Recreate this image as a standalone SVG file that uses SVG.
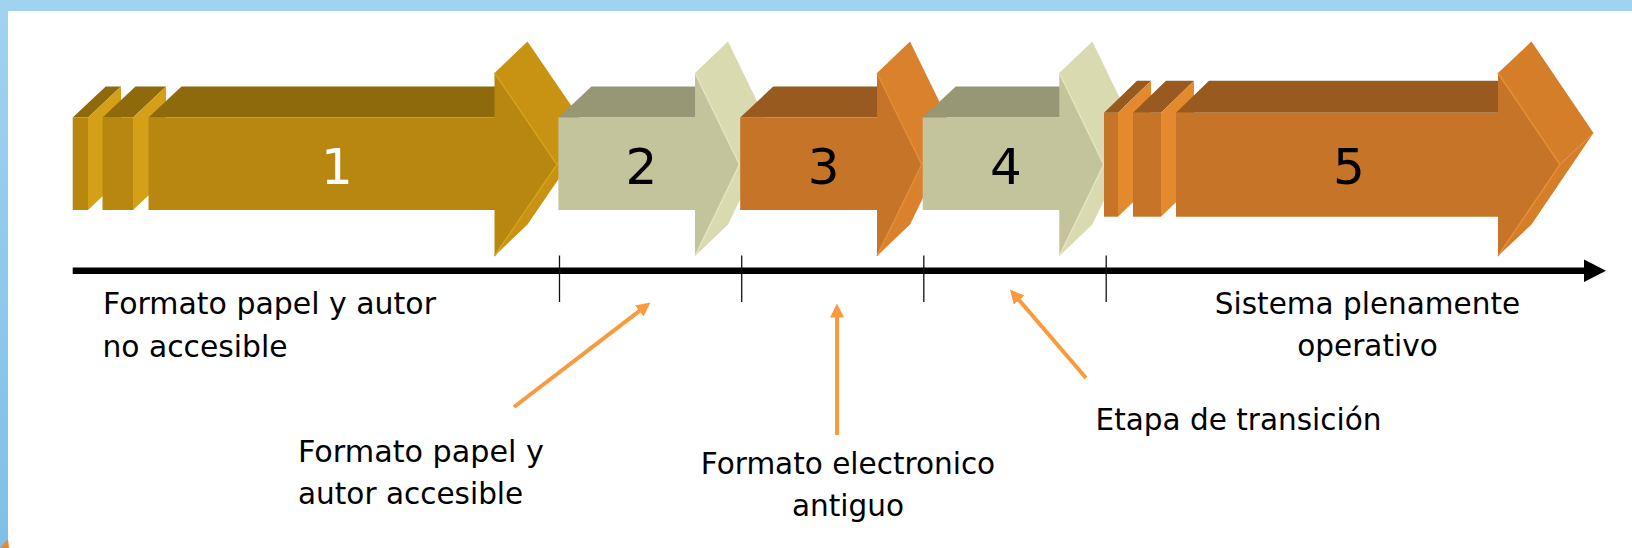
<svg xmlns="http://www.w3.org/2000/svg" width="1632" height="548" viewBox="0 0 1632 548">
<defs>
<linearGradient id="leftBand" x1="0" y1="0" x2="0" y2="1">
<stop offset="0" stop-color="#A1D3F1"/>
<stop offset="1" stop-color="#7FBFE7"/>
</linearGradient>
<marker id="callHead" markerUnits="userSpaceOnUse" markerWidth="16" markerHeight="16" viewBox="0 0 16 16" refX="6" refY="7" orient="auto">
<path d="M0,0 L14,7 L0,14 Z" fill="#FB9A3C"/>
</marker>
</defs>
<style>
.lbl{font-family:"DejaVu Sans","Liberation Sans",sans-serif;font-size:29.5px;fill:#000}
.num{font-family:"DejaVu Sans","Liberation Sans",sans-serif;font-size:50px;text-anchor:middle}
.g-top{fill:#8F6A0D}.g-front{fill:#B7870F}.g-head{fill:#C89313}.g-slab{fill:#D4A017}.g-hl{fill:none;stroke:#D6A21E;stroke-width:1.5}
.k-top{fill:#979776}.k-front{fill:#C3C39C}.k-head{fill:#DADAB0}.k-hl{fill:none;stroke:#E4E4C0;stroke-width:1.5}
.o-top{fill:#985A1E}.o-front{fill:#C57428}.o-head{fill:#DA812E}.o-slab{fill:#E48A2E}.o-hl{fill:none;stroke:#E58E38;stroke-width:1.5}
.call{fill:none;stroke:#FB9A3C;stroke-width:4;marker-end:url(#callHead)}
</style>
<rect x="0" y="0" width="1632" height="548" fill="#FFFFFF"/>
<rect x="0" y="0" width="1632" height="11" fill="#A1D3F1"/>
<rect x="0" y="0" width="8" height="548" fill="url(#leftBand)"/>
<polygon points="0,548 8,539 9,548" fill="#E8892E"/>

<g id="arrow1">
<polygon class="g-top" points="72.7,117.5 105.7,86.5 121,86.5 88,117.5"/>
<polygon class="g-slab" points="88,117.5 121,86.5 121,179 88,210"/>
<rect class="g-front" x="72.7" y="117.5" width="15.3" height="92.5"/>
<polygon class="g-top" points="102.5,117.5 135.5,86.5 166,86.5 133,117.5"/>
<polygon class="g-slab" points="133,117.5 166,86.5 166,179 133,210"/>
<rect class="g-front" x="102.5" y="117.5" width="30.5" height="92.5"/>
<polygon class="g-top" points="148.5,117.5 181.5,86.5 527.5,86.5 494.5,117.5"/>
<polygon class="g-head" points="557,164.5 590,133 527.5,224.5 494.5,256"/>
<polygon class="g-head" points="494.5,73 527.5,41.5 590,133 557,164.5"/>
<polygon class="g-front" points="148.5,117.5 494.5,117.5 494.5,73 557,164.5 494.5,256 494.5,210 148.5,210"/>
<polyline class="g-hl" points="494.5,73 557,164.5 494.5,256"/>
<text class="num" x="337" y="183.5" fill="#FFFFFF">1</text>
</g>

<g id="arrow2">
<polygon class="k-top" points="558.4,117.5 591.4,86.5 728,86.5 695,117.5"/>
<polygon class="k-head" points="739.5,164.5 772.5,133 728,224.5 695,256"/>
<polygon class="k-head" points="695,73 728,41.5 772.5,133 739.5,164.5"/>
<polygon class="k-front" points="558.4,117.5 695,117.5 695,73 739.5,164.5 695,256 695,210 558.4,210"/>
<polyline class="k-hl" points="695,73 739.5,164.5 695,256"/>
<text class="num" x="641.5" y="183.5" fill="#000000">2</text>
</g>

<g id="arrow3">
<polygon class="o-top" points="740.2,117.5 773.2,86.5 910,86.5 877,117.5"/>
<polygon class="o-head" points="921.7,164.5 954.7,133 910,224.5 877,256"/>
<polygon class="o-head" points="877,73 910,41.5 954.7,133 921.7,164.5"/>
<polygon class="o-front" points="740.2,117.5 877,117.5 877,73 921.7,164.5 877,256 877,210 740.2,210"/>
<polyline class="o-hl" points="877,73 921.7,164.5 877,256"/>
<text class="num" x="823.7" y="183.5" fill="#000000">3</text>
</g>

<g id="arrow4">
<polygon class="k-top" points="922.7,117.5 955.7,86.5 1092.3,86.5 1059.3,117.5"/>
<polygon class="k-head" points="1103.8,164.5 1136.8,133 1092.3,224.5 1059.3,256"/>
<polygon class="k-head" points="1059.3,73 1092.3,41.5 1136.8,133 1103.8,164.5"/>
<polygon class="k-front" points="922.7,117.5 1059.3,117.5 1059.3,73 1103.8,164.5 1059.3,256 1059.3,210 922.7,210"/>
<polyline class="k-hl" points="1059.3,73 1103.8,164.5 1059.3,256"/>
<text class="num" x="1006" y="183.5" fill="#000000">4</text>
</g>

<g id="arrow5">
<polygon class="o-top" points="1104,112.7 1137,80.7 1151,80.7 1118,112.7"/>
<polygon class="o-slab" points="1118,112.7 1151,80.7 1151,184.7 1118,216.7"/>
<rect class="o-front" x="1104" y="112.7" width="14" height="104"/>
<polygon class="o-top" points="1133,112.7 1166,80.7 1194,80.7 1161,112.7"/>
<polygon class="o-slab" points="1161,112.7 1194,80.7 1194,184.7 1161,216.7"/>
<rect class="o-front" x="1133" y="112.7" width="28" height="104"/>
<polygon class="o-top" points="1176,112.7 1209,80.7 1531.5,80.7 1498,112.7"/>
<polygon class="o-head" points="1560,164.5 1593.5,133 1531.5,224.5 1498,256" style="fill:#D57E2A"/>
<polygon class="o-head" points="1498,73 1531.5,41.5 1593.5,133 1560,164.5" style="fill:#D57E2A"/>
<polygon class="o-front" points="1176,112.7 1498,112.7 1498,73 1560,164.5 1498,256 1498,216.7 1176,216.7"/>
<polyline class="o-hl" points="1498,73 1560,164.5 1498,256"/>
<text class="num" x="1349" y="183.5" fill="#000000">5</text>
</g>

<g id="timeline">
<line x1="72.7" y1="270.7" x2="1586" y2="270.7" stroke="#000" stroke-width="6.5"/>
<polygon points="1584,259.5 1606,270.7 1584,282" fill="#000"/>
<g stroke="#111" stroke-width="1.3">
<line x1="559.5" y1="255.5" x2="559.5" y2="302"/>
<line x1="741.7" y1="255.5" x2="741.7" y2="302"/>
<line x1="923.8" y1="255.5" x2="923.8" y2="302"/>
<line x1="1106.2" y1="255.5" x2="1106.2" y2="302"/>
</g>
</g>

<g id="label-no-accesible">
<text class="lbl" x="103" y="314" textLength="333" lengthAdjust="spacingAndGlyphs">Formato papel y autor</text>
<text class="lbl" x="102.5" y="356.5" textLength="185" lengthAdjust="spacingAndGlyphs">no accesible</text>
</g>
<g id="label-accesible">
<text class="lbl" x="298" y="461.5" textLength="246" lengthAdjust="spacingAndGlyphs">Formato papel y</text>
<text class="lbl" x="298" y="504">autor accesible</text>
</g>
<g id="label-electronico">
<text class="lbl" x="848" y="473.5" text-anchor="middle">Formato electronico</text>
<text class="lbl" x="848" y="516" text-anchor="middle">antiguo</text>
</g>
<g id="label-transicion">
<text class="lbl" x="1095.5" y="430">Etapa de transición</text>
</g>
<g id="label-operativo">
<text class="lbl" x="1367.5" y="313.5" text-anchor="middle">Sistema plenamente</text>
<text class="lbl" x="1367.5" y="355.5" text-anchor="middle">operativo</text>
</g>

<g id="connectors">
<line class="call" x1="514" y1="407" x2="644.1" y2="307.4"/>
<line class="call" x1="837" y1="435" x2="837" y2="311.5"/>
<line class="call" x1="1086" y1="378" x2="1015.2" y2="295.6"/>
</g>
</svg>
